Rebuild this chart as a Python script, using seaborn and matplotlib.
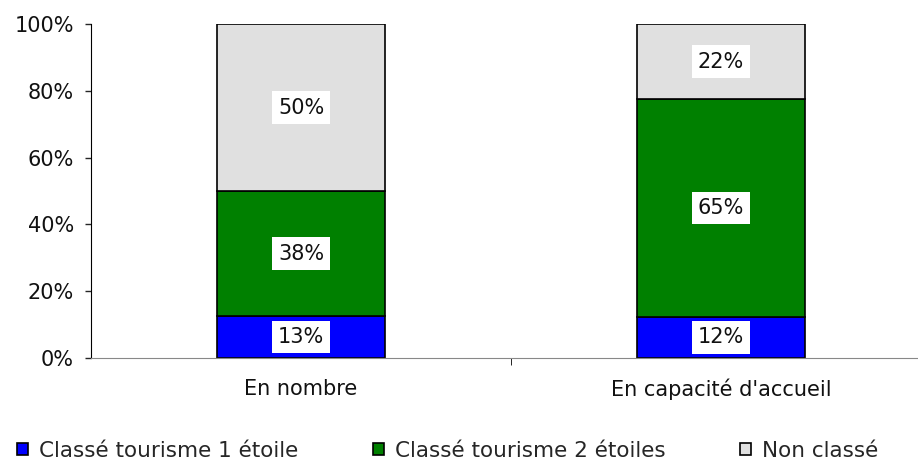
import matplotlib
matplotlib.use("Agg")
import matplotlib.pyplot as plt
import seaborn as sns
import pandas as pd
import numpy as np
from matplotlib.patches import Patch

sns.set_style("white")
plt.rcParams['font.family'] = ['DejaVu Sans']

categories = ["En nombre", "En capacité d'accueil"]
series = ["Classé tourisme 1 étoile", "Classé tourisme 2 étoiles", "Non classé"]
one_star = [12.6, 12.4]
two_star = [37.3, 65.0]
non_classe = [50.1, 22.6]
labels_one = ["13%", "12%"]
labels_two = ["38%", "65%"]
labels_non = ["50%", "22%"]
colors = ["#0000FF", "#008000", "#E0E0E0"]

FS = 15

fig = plt.figure(figsize=(9.18, 4.61), dpi=100)
ax = fig.add_axes([91/918, 1-358/461, (918-91)/918, (358-24)/461])

vals = [one_star, two_star, non_classe]
labs = [labels_one, labels_two, labels_non]
bottom = np.zeros(len(categories))
for s, v, c, lb in zip(series, vals, colors, labs):
    ax.bar(range(len(categories)), v, bottom=bottom, width=0.4, color=c,
           edgecolor="black", linewidth=1.2, label=s, zorder=2)
    for i, (vv, l) in enumerate(zip(v, lb)):
        ax.text(i, bottom[i] + vv/2, l, ha="center", va="center", fontsize=FS,
                color="#111111",
                bbox=dict(facecolor="white", edgecolor="none", pad=4.5), zorder=3)
    bottom = bottom + np.array(v)

ax.set_ylim(0, 100)
ax.set_xlim(-0.5, 0.5 + (918-511)/420)
ax.set_yticks([0, 20, 40, 60, 80, 100])
ax.set_yticklabels(["0%", "20%", "40%", "60%", "80%", "100%"], fontsize=FS, color="#111111")
ax.set_xticks([0, 1])
ax.set_xticklabels(categories, fontsize=FS, color="#111111")
for t in ax.get_xticklabels():
    t.set_va("center_baseline")
ax.tick_params(axis="x", length=0, pad=21)
ax.tick_params(axis="y", length=4.3, direction="out", left=True, width=1, pad=8)
ax.set_xticks([0.5], minor=True)
ax.tick_params(axis="x", which="minor", length=5, bottom=True, direction="out", color="black")
for sp in ["top", "right"]:
    ax.spines[sp].set_visible(False)
ax.spines["left"].set_color("black")
ax.spines["bottom"].set_color("#888888")

starts = [17, 373, 740]
for s, c, x0 in zip(series, colors, starts):
    h = [Patch(facecolor=c, edgecolor="black", linewidth=1.2, label=s)]
    fig.legend(handles=h, loc="center left", bbox_to_anchor=(x0/918, 1-451/461),
               frameon=False, fontsize=15.5, handlelength=0.5, handleheight=0.5,
               handletextpad=0.5, borderpad=0, borderaxespad=0)

fig.savefig("out.png", dpi=100)
